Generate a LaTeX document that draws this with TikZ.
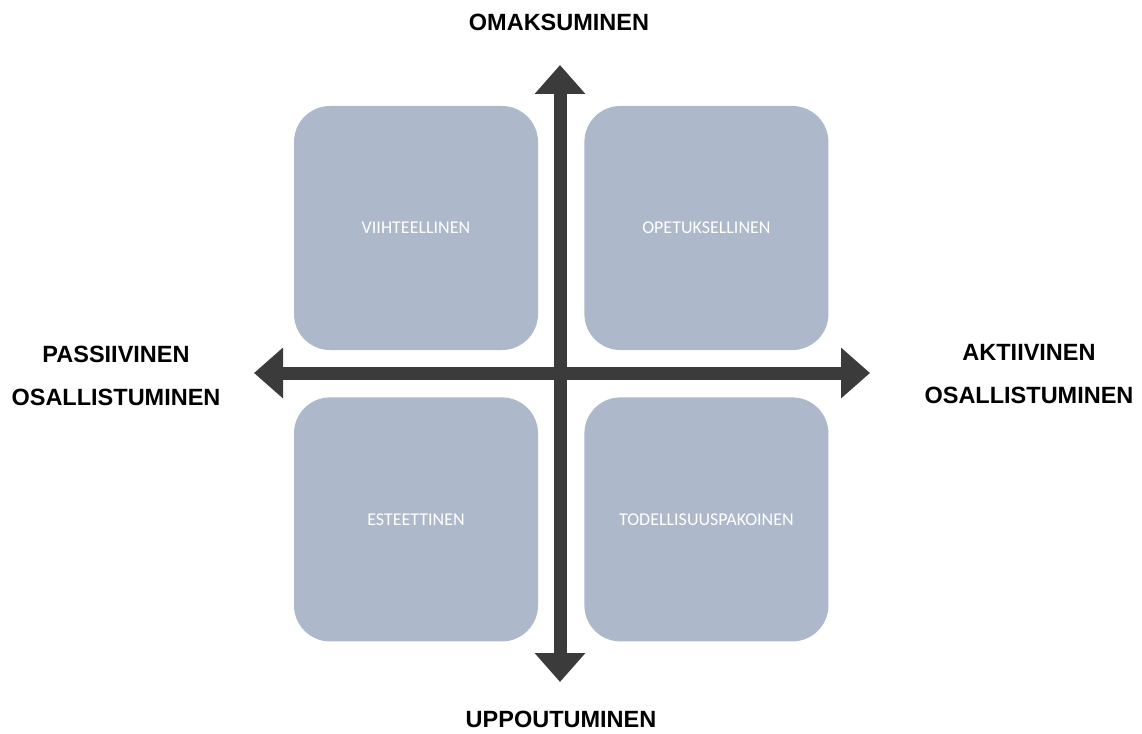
\documentclass[tikz,border=0pt]{standalone}
\usepackage{fontspec}
\setmainfont{Liberation Sans}
\newfontfamily\boxfont{Carlito}
\usepackage{tikz}
\usetikzlibrary{positioning, arrows.meta}

\definecolor{quadfill}{HTML}{ADB9CA}
\definecolor{axisgray}{HTML}{3B3B3B}

\begin{document}
\begin{tikzpicture}[
    x=1pt, y=-1pt,
    node distance=47pt and 46pt,
    quad/.style={
        rectangle,
        rounded corners=36pt,
        fill=quadfill,
        minimum width=244pt,
        minimum height=244pt,
        inner sep=0pt,
        text=white,
        font=\boxfont\fontsize{18}{22}\selectfont
    },
    axislabel/.style={
        align=center,
        inner sep=0pt,
        font=\bfseries\fontsize{23.5}{43}\selectfont
    },
    axis/.style={
        {Triangle[length=29pt, width=49pt]}-{Triangle[length=29pt, width=49pt]},
        line width=13pt,
        draw=axisgray,
        fill=axisgray
    }
]
\useasboundingbox (0,0) rectangle (1142,733);

% quadrants
\node[quad] (viihde) at (416,228) {VIIHTEELLINEN};
\node[quad, right=of viihde] (opetus) {OPETUKSELLINEN};
\node[quad, below=of viihde] (esteet) {ESTEETTINEN};
\node[quad, below=of opetus] (pako) {TODELLISUUSPAKOINEN};

% axis ends
\coordinate (ylos) at (560,65);
\coordinate (alas) at (560,682);
\coordinate (vasen) at (254,373);
\coordinate (oikea) at (870,373);

\draw[axis] (alas) -- (ylos);
\draw[axis] (vasen) -- (oikea);

% axis labels
\node[axislabel] (omaks) at (559,22) {OMAKSUMINEN};
\node[axislabel] (uppout) at (561,719) {UPPOUTUMINEN};
\node[axislabel] (passiiv) at (116,376) {PASSIIVINEN\\OSALLISTUMINEN};
\node[axislabel] (aktiiv) at (1029,374) {AKTIIVINEN\\OSALLISTUMINEN};

\end{tikzpicture}
\end{document}
